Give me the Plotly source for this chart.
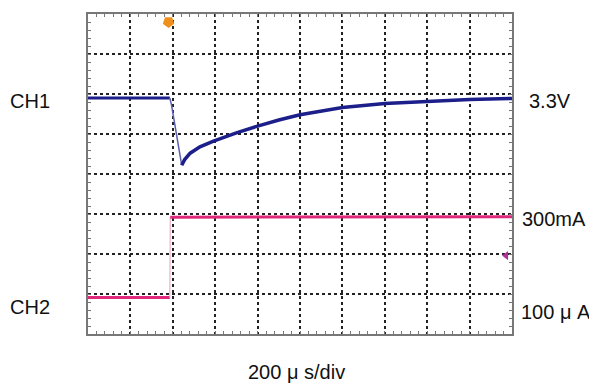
import plotly.graph_objects as go

# Time axis in divisions (200 us/div), amplitude in divisions
ch1_t = [0, 1.93, 1.97, 2.21, 2.28, 2.41, 2.64, 2.96, 3.50, 3.98, 4.50, 5.00, 5.50, 6.00, 7.00, 8.00, 9.00, 10.0]
ch1_v = [5.90, 5.90, 5.72, 4.22, 4.36, 4.52, 4.68, 4.82, 5.03, 5.19, 5.35, 5.48, 5.58, 5.66, 5.76, 5.82, 5.86, 5.89]

ch2_pre_t = [0, 1.93]
ch2_pre_v = [0.91, 0.91]
ch2_step_t = [1.93, 1.94]
ch2_step_v = [0.91, 2.92]
ch2_post_t = [1.94, 10.0]
ch2_post_v = [2.92, 2.93]

trig_t = [1.9]
trig_v = [7.8]
ref2_t = [9.86]
ref2_v = [1.96]

labels_left = ["CH1", "CH2"]
labels_right = ["3.3V", "300mA", "100 \u03bc A"]
x_label = "200 \u03bc s/div"

BLUE = "#1c1f8a"
PINK = "#e0287a"
FONT = "Liberation Sans, Arial, sans-serif"

fig = go.Figure()
fig.add_trace(go.Scatter(x=ch1_t[:2], y=ch1_v[:2], mode="lines",
                         line=dict(color=BLUE, width=3), showlegend=False))
fig.add_trace(go.Scatter(x=ch1_t[1:4], y=ch1_v[1:4], mode="lines",
                         line=dict(color="#5a5fb0", width=1.5), showlegend=False))
fig.add_trace(go.Scatter(x=ch1_t[3:], y=ch1_v[3:], mode="lines",
                         line=dict(color=BLUE, width=3.5), showlegend=False))
fig.add_trace(go.Scatter(x=ch2_pre_t, y=ch2_pre_v, mode="lines",
                         line=dict(color=PINK, width=3), showlegend=False))
fig.add_trace(go.Scatter(x=ch2_step_t, y=ch2_step_v, mode="lines",
                         line=dict(color="#f0a0c0", width=1), showlegend=False))
fig.add_trace(go.Scatter(x=ch2_post_t, y=ch2_post_v, mode="lines",
                         line=dict(color=PINK, width=3), showlegend=False))
fig.add_trace(go.Scatter(x=trig_t, y=trig_v, mode="markers",
                         marker=dict(symbol="pentagon", angle=180, size=12, color="#f0901c"),
                         showlegend=False, cliponaxis=False))
fig.add_trace(go.Scatter(x=ref2_t, y=ref2_v, mode="markers",
                         marker=dict(symbol="triangle-left", size=8, color="#b0309a"),
                         showlegend=False))

axis_common = dict(
    showgrid=True, gridcolor="#222222", gridwidth=1.5, griddash="3px,3px",
    zeroline=False, showticklabels=False,
    showline=True, linecolor="#777777", linewidth=2, mirror="ticks",
    ticks="inside", ticklen=3, tickcolor="#777777", dtick=1,
)
fig.update_xaxes(range=[0, 10], minor=dict(ticks="inside", ticklen=3, dtick=0.2, tickcolor="#777777", showgrid=False), **axis_common)
fig.update_yaxes(range=[0, 8], minor=dict(ticks="inside", ticklen=3, dtick=0.2, tickcolor="#777777", showgrid=False), **axis_common)

ann_font = dict(family=FONT, size=20, color="#111111")
anns = [
    dict(text=labels_left[0], x=-0.1368, y=0.7267, xanchor="center"),
    dict(text=labels_left[1], x=-0.1368, y=0.085, xanchor="center"),
    dict(text=labels_right[0], x=1.035, y=0.727, xanchor="left"),
    dict(text=labels_right[1], x=1.018, y=0.360, xanchor="left"),
    dict(text=labels_right[2], x=(593 - 88) / 424, y=0.068, xanchor="right"),
    dict(text=x_label, x=(296 - 88) / 424, y=-0.118, xanchor="center"),
]
for a in anns:
    fig.add_annotation(xref="paper", yref="paper", yanchor="middle", showarrow=False,
                       font=ann_font, **a)

# page body has an 8px margin: figure starts at (8, 8)
fig.update_layout(
    width=589, height=377,
    margin=dict(l=80, r=85, t=4, b=51),
    paper_bgcolor="white", plot_bgcolor="white",
    showlegend=False,
)
fig.write_html("out.html")
